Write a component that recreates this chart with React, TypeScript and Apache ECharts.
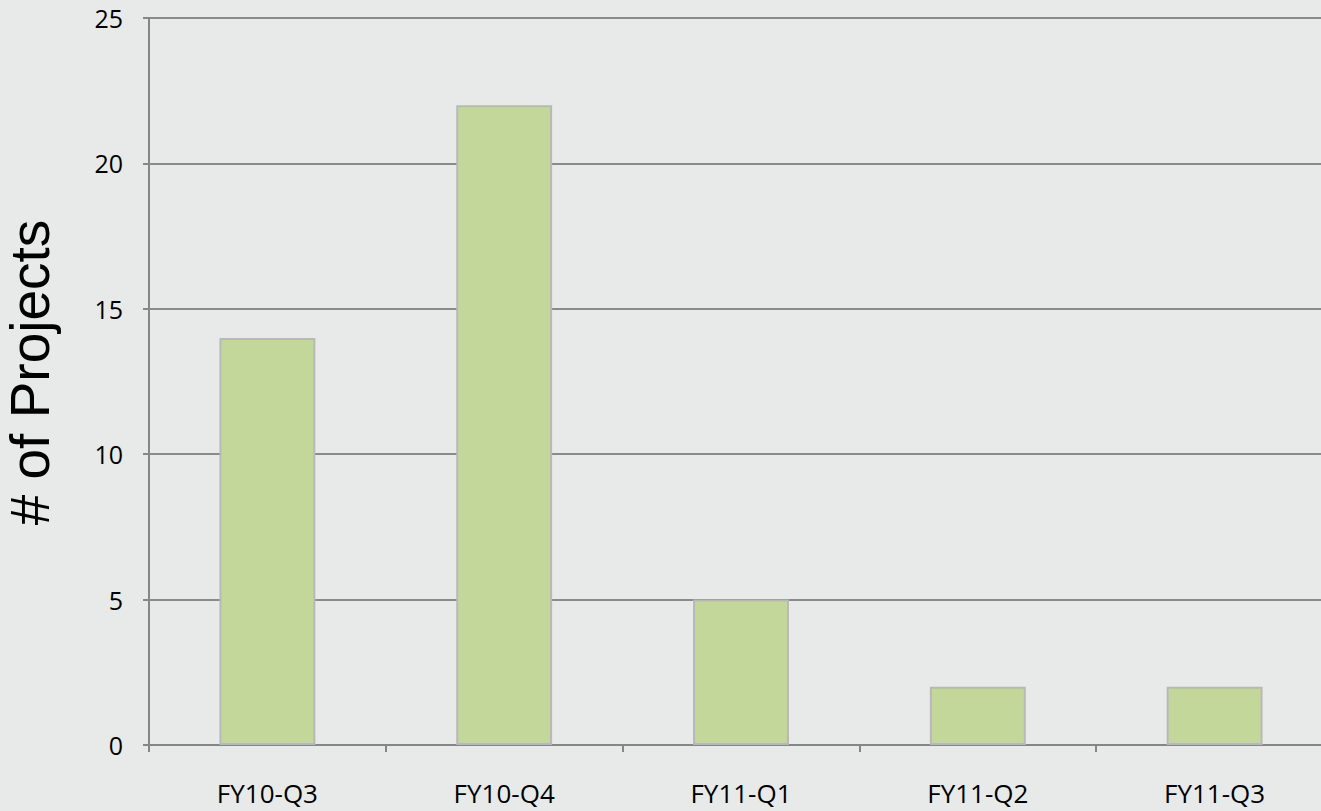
import React, { useEffect, useRef } from "react";
import * as echarts from "echarts";

const categories = ["FY10-Q3", "FY10-Q4", "FY11-Q1", "FY11-Q2", "FY11-Q3"];
const projects = [14, 22, 5, 2, 2];
const yTicks = { min: 0, max: 25, interval: 5 };
const yAxisTitle = "# of Projects";

export default function App() {
  const ref = useRef<HTMLDivElement>(null);
  useEffect(() => {
    if (!ref.current) return;
    const chart = echarts.init(ref.current, undefined, { renderer: "svg" });
    chart.setOption({
      animation: false,
      backgroundColor: "#e8eae9",
      grid: {
        left: 149,
        top: 18,
        width: 1184,
        height: 727,
        containLabel: false,
        outerBoundsMode: "none",
      },
      xAxis: {
        type: "category",
        data: categories,
        axisLine: { show: true, lineStyle: { color: "#868686", width: 2 } },
        axisTick: { show: true, length: 7, lineStyle: { color: "#868686", width: 2 } },
        axisLabel: { color: "#000", fontSize: 26, fontFamily: "Open Sans", margin: 35 },
      },
      yAxis: {
        type: "value",
        min: yTicks.min,
        max: yTicks.max,
        interval: yTicks.interval,
        name: yAxisTitle,
        nameLocation: "middle",
        nameGap: 92,
        nameTextStyle: {
          color: "#000",
          fontSize: 55,
          fontFamily: "Liberation Sans",
          padding: [0, 0, 0, 18],
        },
        axisLine: { show: true, lineStyle: { color: "#868686", width: 2 } },
        axisTick: { show: true, length: 6, lineStyle: { color: "#868686", width: 2 } },
        axisLabel: { color: "#000", fontSize: 25, fontFamily: "Open Sans", margin: 26 },
        splitLine: { show: true, lineStyle: { color: "#8a8a8a", width: 2 } },
      },
      series: [
        {
          type: "bar",
          data: projects,
          barCategoryGap: "59.5%",
          itemStyle: { color: "#c4d79b", borderColor: "#b8b8b8", borderWidth: 2 },
        },
      ],
    });
    return () => chart.dispose();
  }, []);
  return (
    <div
      ref={ref}
      style={{ position: "fixed", left: 0, top: 0, width: 1321, height: 811 }}
    />
  );
}
